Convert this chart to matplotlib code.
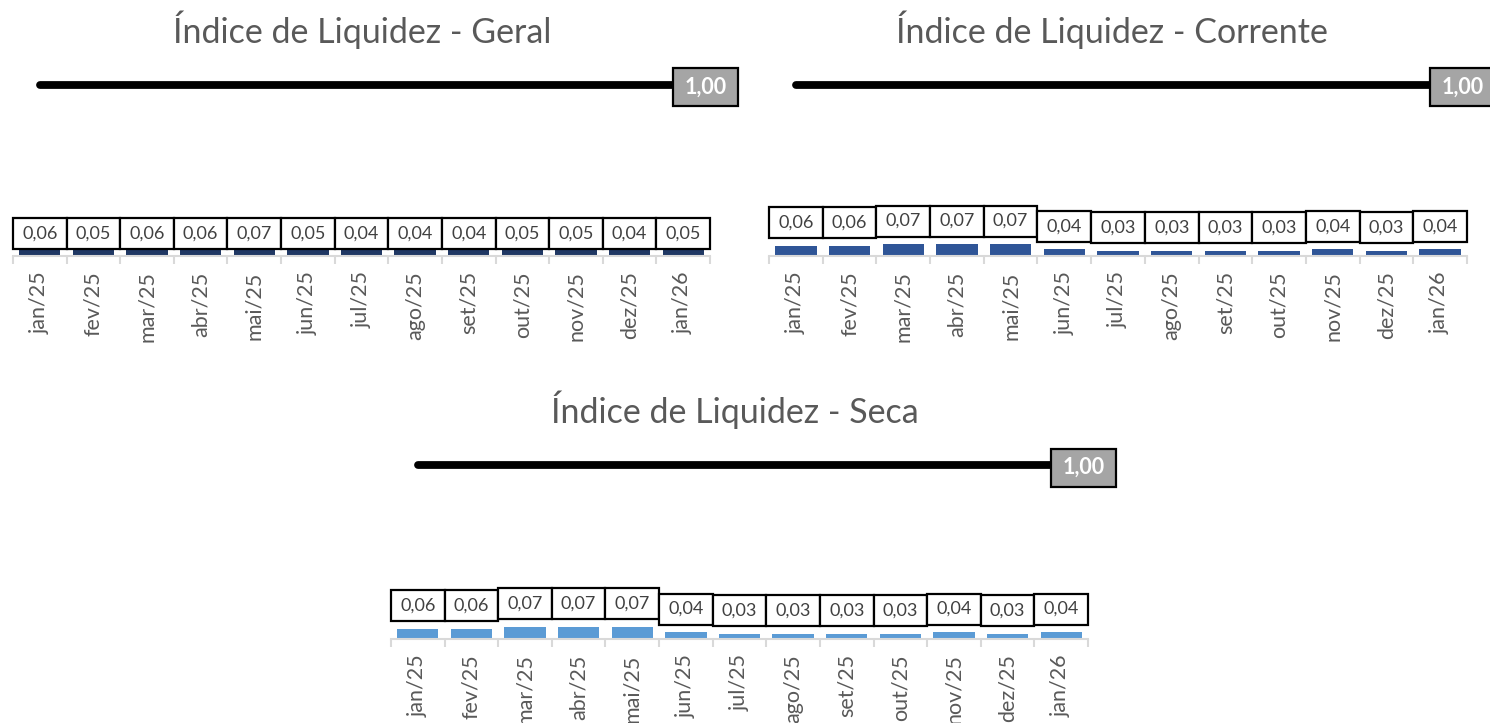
import matplotlib
matplotlib.use("Agg")
import matplotlib.pyplot as plt
from matplotlib.patches import Rectangle
from matplotlib.transforms import ScaledTranslation

plt.rcParams['font.family'] = ['Lato', 'DejaVu Sans']

months = ["jan/25", "fev/25", "mar/25", "abr/25", "mai/25", "jun/25", "jul/25",
          "ago/25", "set/25", "out/25", "nov/25", "dez/25", "jan/26"]
geral = [0.06, 0.05, 0.06, 0.06, 0.07, 0.05, 0.04, 0.04, 0.04, 0.05, 0.05, 0.04, 0.05]
corrente = [0.06, 0.06, 0.07, 0.07, 0.07, 0.04, 0.03, 0.03, 0.03, 0.03, 0.04, 0.03, 0.04]
seca = [0.06, 0.06, 0.07, 0.07, 0.07, 0.04, 0.03, 0.03, 0.03, 0.03, 0.04, 0.03, 0.04]
referencia = 1.00

titles = ["Índice de Liquidez - Geral", "Índice de Liquidez - Corrente", "Índice de Liquidez - Seca"]
colors = ["#203864", "#2f5597", "#5b9bd5"]

W, H = 1490, 723
DPI = 100
fig = plt.figure(figsize=(W / DPI, H / DPI), dpi=DPI)

# axes geometry in pixels: left, right, bottom(axis line), y of value 1.0
geoms = [(13, 710, 256, 85), (769, 1467, 256, 85), (391, 1088, 639, 465)]
title_pos = [(362, 30), (1112, 30), (735, 410)]
YMAX = 1.1


def fmt(v):
    return f"{v:.2f}".replace(".", ",")


def panel(k, values, fixed_labels):
    l, r, b, one = geoms[k]
    ppu = (b - one) / 1.0
    top = b - YMAX * ppu
    ax = fig.add_axes([l / W, (H - b) / H, (r - l) / W, (b - top) / H])
    n = len(values)
    xs = list(range(n))
    ax.set_xlim(-0.5, n - 0.5)
    ax.set_ylim(0, YMAX)
    ax.bar(xs, values, width=0.77, color=colors[k], zorder=2)
    ax.plot(xs, [referencia] * n, color="black", lw=5.6, solid_capstyle="round", zorder=3)

    for s in ["top", "right", "left"]:
        ax.spines[s].set_visible(False)
    ax.spines["bottom"].set_color("#d9d9d9")
    ax.spines["bottom"].set_linewidth(1.5)
    ax.set_yticks([])
    ax.set_xticks(xs)
    ax.set_xticklabels(months, rotation=90, fontsize=15.5, color="#595959")
    ax.tick_params(axis="x", which="major", length=0, pad=11)
    ax.set_xticks([x - 0.5 for x in range(n + 1)], minor=True)
    ax.tick_params(axis="x", which="minor", length=5.5, width=1.5, color="#d9d9d9")

    box_h = 31 / ppu
    for i, v in enumerate(values):
        if fixed_labels:
            base, off = 0.0, 7
        else:
            base, off = v, 7.5
        tr = ax.transData + ScaledTranslation(0, off / DPI, fig.dpi_scale_trans)
        ax.add_patch(Rectangle((i - 0.5, base), 1.0, box_h, transform=tr,
                               facecolor="white", edgecolor="black", lw=1.6,
                               zorder=5, clip_on=False))
        ax.text(i, base + box_h / 2, fmt(v), transform=tr, ha="center", va="center",
                fontsize=13, color="#404040", zorder=6, clip_on=False)

    # reference label box, to the right of the last point
    trr = ax.transData + ScaledTranslation(-10 / DPI, 0, fig.dpi_scale_trans)
    bw = 65 / (r - l) * n
    bh = 38 / ppu
    ax.add_patch(Rectangle((n - 1, referencia - bh / 2 - 2.5 / ppu), bw, bh, transform=trr,
                           facecolor="#a5a5a5", edgecolor="black", lw=1.6,
                           zorder=5, clip_on=False))
    ax.text(n - 1 + bw / 2, referencia - 2.5 / ppu, fmt(referencia), transform=trr,
            ha="center", va="center", fontsize=15.5, fontweight="bold", color="white",
            zorder=6, clip_on=False)

    tx, ty = title_pos[k]
    fig.text(tx / W, 1 - ty / H, titles[k], ha="center", va="center",
             fontsize=24.5, color="#595959")


panel(0, geral, True)
panel(1, corrente, False)
panel(2, seca, False)

fig.savefig("out.png", dpi=DPI)
